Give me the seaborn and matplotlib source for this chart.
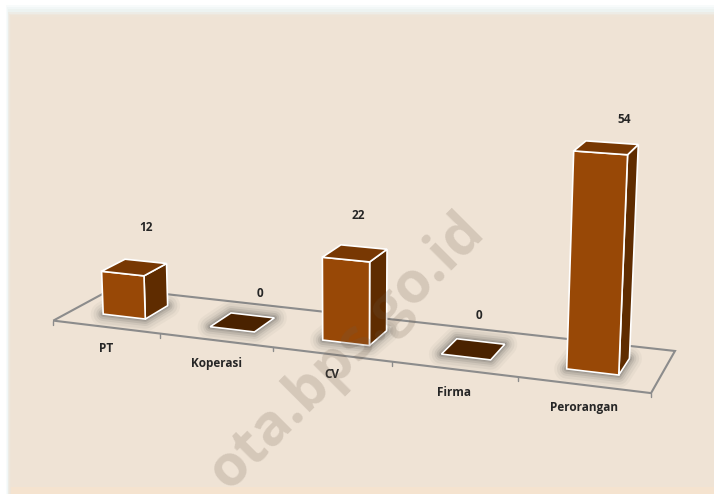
import numpy as np
import matplotlib
matplotlib.use("Agg")
import matplotlib.pyplot as plt
from matplotlib.patches import Polygon, Rectangle
from matplotlib.transforms import Affine2D, Transform
import seaborn as sns

categories = ["PT", "Koperasi", "CV", "Firma", "Perorangan"]
values = [12, 0, 22, 0, 54]
value_label_offsets = [(12, 40), (17, 29), (3, 38), (6, 34), (18, 28.5)]
category_label_offsets = [21, 23, 20, 23, 23]

W, H = 714, 494
BG = "#EFE3D5"
FRONT, SIDE, TOP, FLAT = "#984806", "#5F2C00", "#783803", "#4A2200"
INK = "#262626"

sns.set_theme(style="white")
plt.rcParams["font.family"] = ["Open Sans", "DejaVu Sans"]

fig = plt.figure(figsize=(W / 100, H / 100), dpi=100, facecolor="white")
ax = fig.add_axes([0, 0, 1, 1])
pix = Affine2D().scale(1 / W, -1 / H).translate(0, 1) + fig.transFigure

# Floor plane calibration: (category position, depth) -> image pixels, least squares
calib = [
    ((-0.5, 0), (53, 321)), ((0.5, 0), (161, 334)), ((1.5, 0), (273, 347)),
    ((2.5, 0), (392, 361)), ((3.5, 0), (518, 377)), ((4.5, 0), (651, 393)),
    ((4.5, 1), (675, 351)), ((-0.5, 1), (113, 288)),
    ((0.8, 0.3), (210, 327)), ((1.2, 0.3), (254, 332)),
    ((1.2, 0.7), (273, 317)), ((0.8, 0.7), (233, 313)),
    ((2.8, 0.3), (442, 354)), ((3.2, 0.3), (491, 360)),
    ((3.2, 0.7), (505, 345)), ((2.8, 0.7), (456, 339)),
]
A, b = [], []
for (u, v), (px, py) in calib:
    A.append([u, v, 1, 0, 0, 0, -u * px, -v * px]); b.append(px)
    A.append([0, 0, 0, u, v, 1, -u * py, -v * py]); b.append(py)
h = np.linalg.lstsq(np.array(A, float), np.array(b, float), rcond=None)[0]
G = np.array([[h[0], h[1], h[2]], [h[3], h[4], h[5]], [h[6], h[7], 1.0]])
VP = np.array([350.0, 7100.0, 1.0])
ref_w = G[2] @ np.array([4.0, 0.3, 1.0])
UP = -VP * 3.93 * ref_w / (VP[1] - 372)


def project(x, d, z):
    p = G @ np.array([x, d, 1.0]) + z * UP
    return p[0] / p[2], p[1] / p[2]


class FaceAtDepth(Transform):
    input_dims = output_dims = 2
    has_inverse = False

    def __init__(self, face_depth):
        super().__init__()
        self.face_depth = face_depth

    def transform_non_affine(self, values):
        return np.array([project(x, self.face_depth, z) for x, z in values])


D0, D1 = 0.3, 0.7

# Panel with soft edges
glow = [(6, 5, "#EAF3F3", 0.3), (7, 7, "#EAF3F3", 0.4), (8, 9, "#EAF1EE", 0.6),
        (8, 12, "#EDE8DF", 0.6), (9, 14, BG, 0.5), (10, 15, BG, 0.7), (11, 17, BG, 1.0)]
for i, (left, top_y, colour, alpha) in enumerate(glow):
    ax.add_patch(Rectangle((left, top_y), W, H, transform=pix, facecolor=colour,
                           edgecolor="none", alpha=alpha, zorder=0.1 + i * 0.01))
ax.add_patch(Rectangle((11, 487), W, 7, transform=pix, facecolor="#F5E3CF",
                       edgecolor="none", zorder=0.2))

# Floor outline and ticks
corners = [project(-0.5, 0, 0), project(4.5, 0, 0), project(4.5, 1, 0), project(-0.5, 1, 0)]
ax.add_patch(Polygon(corners, closed=True, transform=pix, facecolor="none",
                     edgecolor="#8C8C8C", linewidth=1.5, zorder=1))
for t in np.arange(-0.5, 5.0, 1.0):
    tx, ty = project(t, 0, 0)
    ax.plot([tx, tx], [ty, ty + 4], transform=pix, color="#8C8C8C", lw=1, zorder=1)

# Bars
sns.barplot(x=categories, y=values, width=0.4, color=FRONT, saturation=1,
            edgecolor="white", linewidth=1.2, ax=ax, zorder=5)
ax.set_xlim(-0.5, 4.5)
ax.set_ylim(0, 60)
ax.axis("off")

front_tf = FaceAtDepth(D0) + pix
for bar in ax.containers[0]:
    x0, w = bar.get_x(), bar.get_width()
    x1 = x0 + w
    z = bar.get_height()
    footprint = [project(x0, D0, 0), project(x1, D0, 0), project(x1, D1, 0), project(x0, D1, 0)]
    # soft shadow around the base
    for lw, al in zip([18, 14, 10, 7, 4, 2], [0.04, 0.06, 0.08, 0.11, 0.14, 0.2]):
        ax.add_patch(Polygon(footprint, closed=True, transform=pix, facecolor="#3a3a3a",
                             edgecolor="#3a3a3a", linewidth=lw, alpha=al,
                             joinstyle="round", zorder=2))
    top = [project(x0, D0, z), project(x1, D0, z), project(x1, D1, z), project(x0, D1, z)]
    if z > 0:
        side = [project(x1, D0, 0), project(x1, D1, 0), project(x1, D1, z), project(x1, D0, z)]
        ax.add_patch(Polygon(side, closed=True, transform=pix, facecolor=SIDE,
                             edgecolor="white", linewidth=1.2, zorder=4))
        bar.set_transform(front_tf)
        bar.set_clip_on(False)
        top_colour = TOP
    else:
        bar.set_visible(False)
        top_colour = FLAT
    ax.add_patch(Polygon(top, closed=True, transform=pix, facecolor=top_colour,
                         edgecolor="white", linewidth=1.2, zorder=6))

# Labels
for i, (cat, val) in enumerate(zip(categories, values)):
    cx, cy = project(i, 0, 0)
    ax.annotate(cat, xy=(cx, cy + category_label_offsets[i]), xycoords=pix, ha="center",
                va="center", fontsize=8.5, fontweight="bold", color=INK, zorder=8)
    tx, ty = project(i, 0.5, val)
    dx, dy = value_label_offsets[i]
    ax.annotate(str(val), xy=(tx + dx, ty - dy), xycoords=pix, ha="center", va="center",
                fontsize=8.5, fontweight="bold", color=INK, zorder=8)

# Watermark
ax.text(347, 352, "ota.bps.go.id", transform=pix, rotation=45, rotation_mode="anchor",
        ha="center", va="center", fontsize=41, fontweight="bold", color="#6B5A4A",
        alpha=0.2, zorder=9, clip_on=True)

fig.savefig("out.png", dpi=100, facecolor="white")
